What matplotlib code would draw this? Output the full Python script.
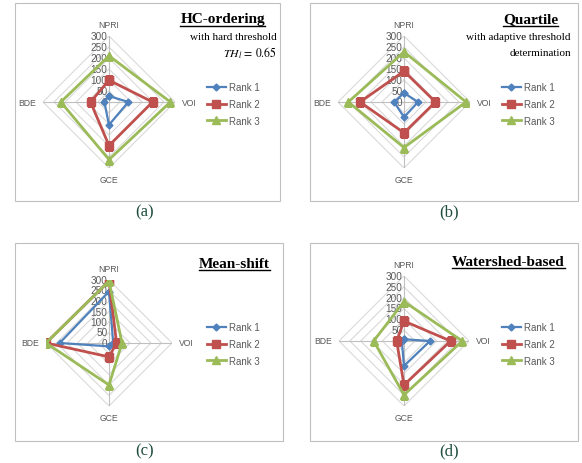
import numpy as np
import matplotlib
matplotlib.use("Agg")
import matplotlib.pyplot as plt
from matplotlib.patches import Rectangle

plt.rcParams['mathtext.fontset'] = 'stix'

W, H = 582, 464

axes_names = ["NPRI", "VOI", "GCE", "BDE"]
ranks = ["Rank 1", "Rank 2", "Rank 3"]
ticks = [0, 50, 100, 150, 200, 250, 300]

# values per panel: rows = Rank 1..3, cols = NPRI, VOI, GCE, BDE
hc_vals = [[27, 88, 104, 21],
           [99, 198, 198, 84],
           [210, 279, 262, 219]]
quart_vals = [[41, 64, 69, 45],
              [140, 143, 140, 200],
              [228, 282, 207, 253]]
mean_vals = [[245, 20, 16, 235],
             [295, 36, 66, 300],
             [295, 62, 200, 300]]
water_vals = [[8, 120, 115, 10],
              [92, 215, 203, 34],
              [182, 269, 249, 140]]

colors = ["#4F81BD", "#C0504D", "#9BBB59"]
markers = ["D", "s", "^"]
msizes = [3.5, 6, 6]
small_font = ['Liberation Sans Narrow', 'Liberation Sans']

fig = plt.figure(figsize=(W / 100, H / 100), dpi=100)


def px(x0, y0, w, h):
    return [x0 / W, 1 - (y0 + h) / H, w / W, h / H]


def radar(cx, cy, r, vals, leg_x, leg_y):
    ax = fig.add_axes(px(cx - r, cy - r, 2 * r, 2 * r), projection='polar')
    ax.set_theta_offset(np.pi / 2)
    ax.set_theta_direction(-1)
    ax.set_ylim(0, 300)
    ax.axis('off')
    th = np.linspace(0, 2 * np.pi, len(axes_names), endpoint=False)
    thc = np.append(th, th[0])
    for t in ticks[1:]:
        ax.plot(thc, [t] * len(thc), color="#D9D9D9", lw=0.8, zorder=1)
    for a in th:
        ax.plot([a, a], [0, 300], color="#BFBFBF", lw=0.8, zorder=1)
    for i, row in enumerate(vals):
        v = np.append(row, row[0])
        ax.plot(thc, v, color=colors[i], lw=2 if i else 1.6, marker=markers[i],
                ms=msizes[i], label=ranks[i], zorder=3 + i)
    for t in ticks:
        ax.annotate(str(t), (0, t), xytext=(-1, 0), textcoords='offset points',
                    ha='right', va='center', fontsize=7.2, color="#595959",
                    family=small_font, zorder=2)
    offs = [(0, 5), (5, 0), (0, -5), (-5, 0)]
    has = ['center', 'left', 'center', 'right']
    vas = ['bottom', 'center', 'top', 'center']
    for a, name, o, ha, va in zip(th, axes_names, offs, has, vas):
        ax.annotate(name, (a, 300), xytext=o, textcoords='offset points',
                    ha=ha, va=va, fontsize=6.2, color="#595959", family=small_font)
    ax.legend(loc='center left', bbox_to_anchor=(leg_x / W, 1 - leg_y / H),
              bbox_transform=fig.transFigure, frameon=False,
              handlelength=2.0, labelspacing=0.7, handletextpad=0.25,
              labelcolor="#595959", prop={'family': small_font, 'size': 7})
    return ax


def box(x0, y0, x1, y1, cap, capx, capy):
    fig.patches.append(Rectangle((x0 / W, 1 - y1 / H), (x1 - x0) / W, (y1 - y0) / H,
                                 transform=fig.transFigure, fill=False,
                                 ec="#BFBFBF", lw=0.8))
    fig.text(capx / W, 1 - capy / H, cap, ha='center', va='center',
             fontsize=12, family='Liberation Serif', color="#1F4E3D")


def title(txt, xr, yt):
    t = fig.text(xr / W, 1 - yt / H, txt, ha='right', va='center', fontsize=11,
                 weight='bold', family='Liberation Serif')
    fig.canvas.draw()
    bb = t.get_window_extent()
    yl = bb.y0 - 0.5
    fig.add_artist(plt.Line2D([bb.x0 / W, bb.x1 / W], [yl / H, yl / H],
                              transform=fig.transFigure, color='black', lw=1))


box(15, 4, 280, 202, "(a)", 145, 212)
box(310, 4, 578, 202, "(b)", 449, 212)
box(15, 244, 283, 442, "(c)", 145, 451)
box(310, 244, 578, 442, "(d)", 449, 451)

radar(109, 103, 66, hc_vals, 198, 105)
radar(404, 103, 66, quart_vals, 493, 105)
radar(109, 344, 63, mean_vals, 198, 345)
radar(404, 342, 65, water_vals, 493, 345)

title("HC-ordering", 265, 20)
fig.text(277 / W, 1 - 38 / H, "with hard threshold", ha='right', va='center',
         fontsize=8, family='Liberation Serif')
fig.text(277 / W, 1 - 53 / H, r"$TH_l\,=\,0.65$", ha='right', va='center', fontsize=8.5)

title("Quartile", 558, 20)
fig.text(571 / W, 1 - 38 / H, "with adaptive threshold", ha='right', va='center',
         fontsize=8, family='Liberation Serif')
fig.text(571 / W, 1 - 53 / H, "determination", ha='right', va='center',
         fontsize=8, family='Liberation Serif')

title("Mean-shift", 270, 264)
title("Watershed-based", 565, 262)

fig.savefig("out.png", dpi=100)
